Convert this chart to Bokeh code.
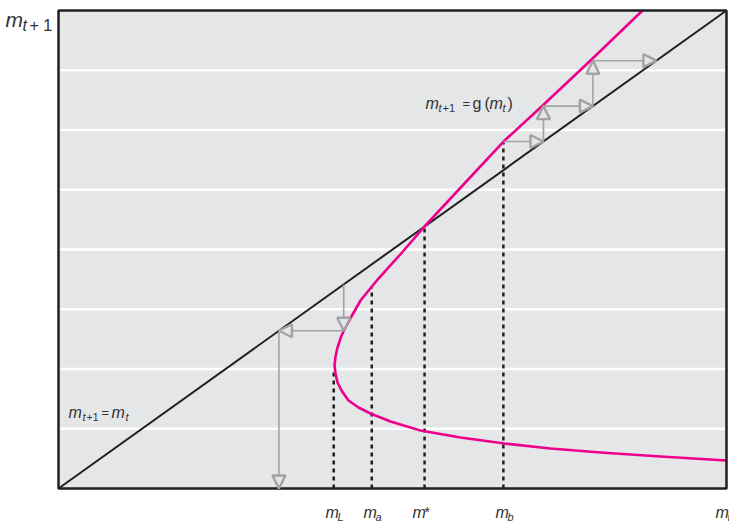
from bokeh.plotting import figure
from bokeh.models import Range1d, Arrow, NormalHead, ColumnDataSource, Label
from bokeh.embed import file_html
from bokeh.resources import INLINE

# ---- data (normalised units: 0..1 on both axes) ----
curve_x = [0.8743, 0.7964, 0.7216, 0.6662, 0.6063, 0.5479, 0.5090, 0.4790, 0.4521,
           0.4326, 0.4237, 0.4177, 0.4147, 0.4132, 0.4147, 0.4177, 0.4237, 0.4341,
           0.4491, 0.4671, 0.4970, 0.5419, 0.6018, 0.6677, 0.7365, 0.8114, 0.9012, 1.0]
curve_y = [1.0, 0.8954, 0.7971, 0.7259, 0.6360, 0.5481, 0.4854, 0.4393, 0.3933,
           0.3452, 0.3201, 0.2950, 0.2762, 0.2573, 0.2406, 0.2218, 0.2050, 0.1841,
           0.1695, 0.1569, 0.1402, 0.1213, 0.1067, 0.0941, 0.0837, 0.0753, 0.0669, 0.0586]

mark_x = [0.412, 0.469, 0.548, 0.666]      # m_L, m_a, m*, m_b
mark_top = [0.251, 0.423, 0.548, 0.726]
mark_labels = ["L", "a", "*", "b"]

grid_y = [1/8, 2/8, 3/8, 4/8, 5/8, 6/8, 7/8]

web_low_x = [0.427, 0.427, 0.330, 0.330]
web_low_y = [0.427, 0.330, 0.330, 0.0]
web_up_x = [0.666, 0.726, 0.726, 0.800, 0.800, 0.895]
web_up_y = [0.726, 0.726, 0.800, 0.800, 0.895, 0.895]

# ---- figure geometry: picture px -> data ----
W, H = 729, 524
def X(px):
    return (px - 58) / 668
def Y(py):
    return (488 - py) / 478

x0 = X(0); x1 = X(W)
y1 = Y(0); y0 = Y(H)

BG = "#e5e6e8"
GRAY = "#a3a3a3"
MAG = "#ec008c"
INK = "#231f20"
TXT = "#333333"
FONT = "Liberation Sans"

p = figure(width=W, height=H, x_range=Range1d(x0, x1), y_range=Range1d(y0, y1),
           output_backend="svg", toolbar_location=None, min_border=0)
p.axis.visible = False
p.grid.visible = False
p.outline_line_color = None
p.background_fill_color = "white"
p.border_fill_color = "white"

# plot panel
p.quad(left=[0], right=[1], bottom=[0], top=[1], fill_color=BG, line_color=None)
p.segment(x0=[0]*len(grid_y), x1=[1]*len(grid_y), y0=grid_y, y1=grid_y,
          line_color="white", line_width=2.5)

# dashed markers
p.segment(x0=mark_x, x1=mark_x, y0=[0]*len(mark_x), y1=mark_top,
          line_color=INK, line_width=2.5, line_dash="4 4")

# 45-degree line
p.line([0, 1], [0, 1], line_color=INK, line_width=2)

# cobweb arrows
def segs(xs, ys):
    return xs[:-1], ys[:-1], xs[1:], ys[1:]

a1 = segs(web_low_x, web_low_y)
a2 = segs(web_up_x, web_up_y)
src = ColumnDataSource(dict(xs=a1[0] + a2[0], ys=a1[1] + a2[1],
                            xe=a1[2] + a2[2], ye=a1[3] + a2[3]))
p.add_layout(Arrow(source=src, x_start="xs", y_start="ys", x_end="xe", y_end="ye",
                   line_color=GRAY, line_width=1.6,
                   end=NormalHead(size=13, fill_color=BG, line_color=GRAY, line_width=2.4)))

# g(m) curve
p.line(curve_x, curve_y, line_color=MAG, line_width=2.6, line_join="round")

# frame
p.quad(left=[0], right=[1], bottom=[0], top=[1], fill_color=None,
       line_color=INK, line_width=2.5)

# ---- text ----
def txt(s, px, py, size, italic=True):
    p.add_layout(Label(x=X(px), y=Y(py), text=s, text_font=FONT,
                       text_font_size=f"{size}px",
                       text_font_style="italic" if italic else "normal",
                       text_color=TXT, text_baseline="alphabetic", text_align="left"))

# y-axis title m_{t+1}
txt("m", 5, 19, 21)
txt("t", 22, 25, 16)
txt("+ 1", 29, 25, 16, italic=False)

# m_{t+1} = g(m_t)
txt("m", 425, 103, 16)
txt("t", 438, 107, 11)
txt("+1", 442, 107, 11, italic=False)
txt("=", 462, 103, 13, italic=False)
txt("g", 472, 103, 16, italic=False)
txt("(", 484, 103, 16, italic=False)
txt("m", 489, 103, 16)
txt("t", 502, 107, 11)
txt(")", 507, 103, 16, italic=False)

# m_{t+1} = m_t
txt("m", 68, 412, 16)
txt("t", 82, 416, 11)
txt("+1", 86, 416, 10.5, italic=False)
txt("=", 101, 412, 13, italic=False)
txt("m", 111, 412, 16)
txt("t", 125, 416, 11)

# x-axis labels
label_px = [325, 363, 412, 495]
for lx, lab in zip(label_px, mark_labels):
    txt("m", lx, 512, 16)
    if lab == "*":
        txt("*", lx + 12, 511, 14, italic=False)
    else:
        txt(lab, lx + 12, 516, 11)
txt("m", 715, 512, 16)
txt("t", 727, 516, 11)

open("out.html", "w").write(file_html(p, INLINE))
